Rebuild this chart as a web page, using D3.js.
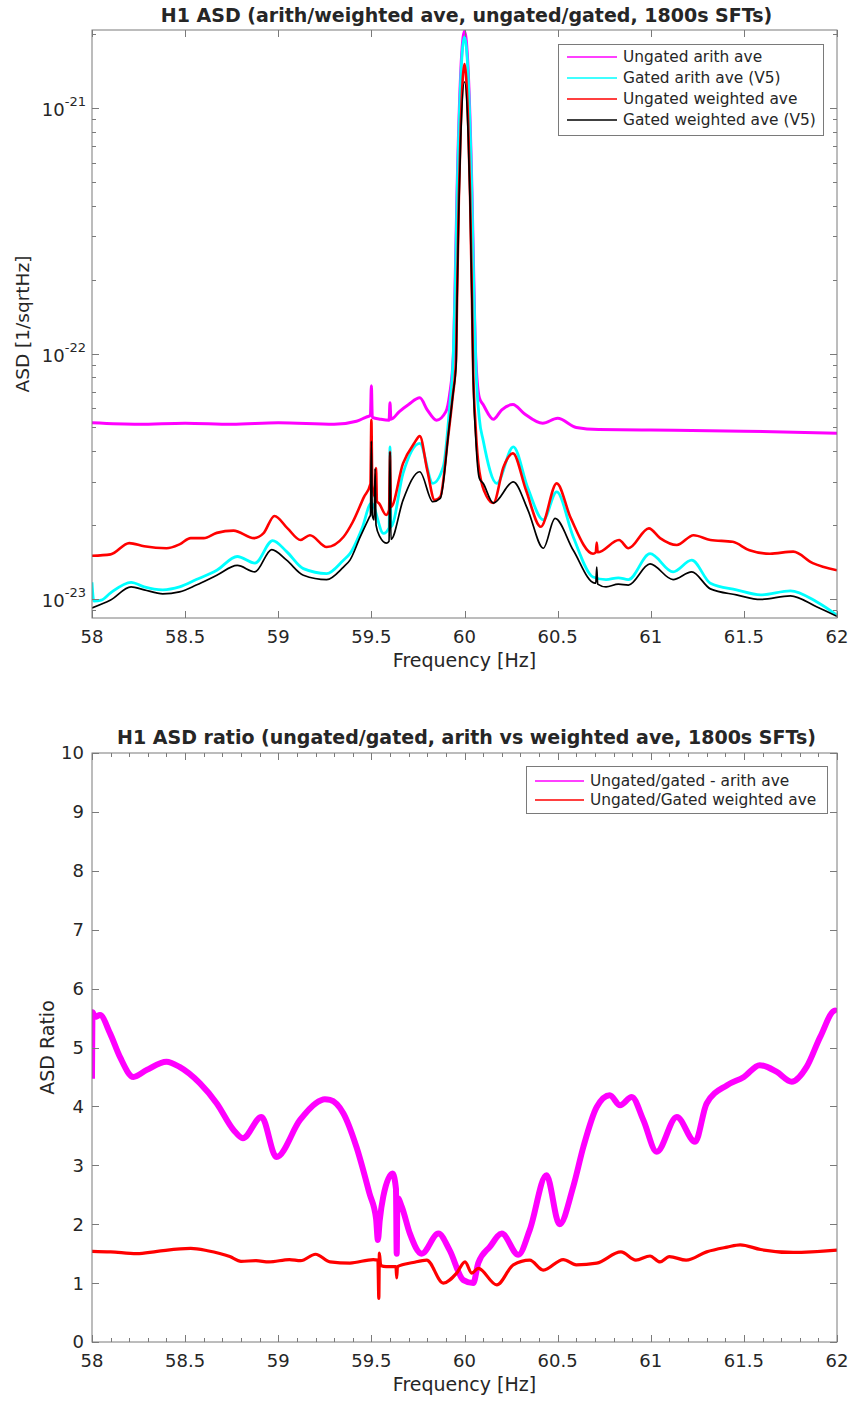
<!DOCTYPE html>
<html>
<head>
<meta charset="utf-8">
<script src="https://cdn.jsdelivr.net/npm/d3@7"></script>
<style>
  body { margin: 0; background: #fff; }
  text { font-family: "DejaVu Sans", sans-serif; fill: #262626; }
</style>
</head>
<body>
<script>
// ---- data: [frequency Hz, value] ----
const ungatedArith = [[58.0,5.22e-23],[58.25,5.15e-23],[58.5,5.2e-23],[58.75,5.15e-23],[59.0,5.22e-23],[59.3,5.15e-23],[59.42,5.3e-23],[59.47,5.5e-23],[59.495,5.6e-23],[59.50,7.4e-23],[59.505,5.5e-23],[59.55,5.4e-23],[59.595,5.35e-23],[59.60,6.3e-23],[59.605,5.4e-23],[59.65,5.8e-23],[59.70,6.2e-23],[59.76,6.6e-23],[59.80,5.9e-23],[59.85,5.35e-23],[59.90,5.8e-23],[59.92,6.8e-23],[59.94,9.8e-23],[59.95,2.0e-22],[59.96,4.6e-22],[59.98,1.41e-21],[60.00,2.06e-21],[60.02,1.41e-21],[60.04,4.6e-22],[60.05,2.0e-22],[60.06,9.8e-23],[60.08,6.6e-23],[60.10,6.2e-23],[60.155,5.4e-23],[60.20,5.9e-23],[60.26,6.2e-23],[60.32,5.7e-23],[60.42,5.2e-23],[60.50,5.45e-23],[60.60,5.0e-23],[60.72,4.9e-23],[61.0,4.88e-23],[61.5,4.83e-23],[62.0,4.74e-23]];

const gatedArith = [[58.0,1.17e-23],[58.01,9.8e-24],[58.05,9.9e-24],[58.10,1.06e-23],[58.21,1.17e-23],[58.28,1.12e-23],[58.38,1.09e-23],[58.47,1.12e-23],[58.56,1.20e-23],[58.67,1.31e-23],[58.78,1.49e-23],[58.875,1.40e-23],[58.97,1.73e-23],[59.045,1.56e-23],[59.135,1.33e-23],[59.26,1.27e-23],[59.35,1.44e-23],[59.385,1.53e-23],[59.45,1.94e-23],[59.50,2.46e-23],[59.565,1.85e-23],[59.595,1.95e-23],[59.60,4.17e-23],[59.605,1.97e-23],[59.67,3.25e-23],[59.76,4.31e-23],[59.83,2.96e-23],[59.886,3.46e-23],[59.92,6.07e-23],[59.94,1.0e-22],[59.95,1.85e-22],[59.96,4.3e-22],[59.98,1.33e-21],[60.00,1.95e-21],[60.02,1.33e-21],[60.04,4.3e-22],[60.05,1.85e-22],[60.06,9.4e-23],[60.08,5.4e-23],[60.10,4.44e-23],[60.173,2.96e-23],[60.262,4.17e-23],[60.34,2.83e-23],[60.423,2.10e-23],[60.495,2.73e-23],[60.584,1.79e-23],[60.69,1.23e-23],[60.76,1.20e-23],[60.826,1.22e-23],[60.88,1.20e-23],[60.996,1.53e-23],[61.12,1.29e-23],[61.22,1.44e-23],[61.32,1.16e-23],[61.46,1.09e-23],[61.59,1.04e-23],[61.75,1.08e-23],[61.89,9.75e-24],[62.0,8.6e-24]];

const ungatedWeighted = [[58.0,1.50e-23],[58.10,1.52e-23],[58.20,1.69e-23],[58.28,1.64e-23],[58.40,1.61e-23],[58.47,1.67e-23],[58.53,1.77e-23],[58.60,1.77e-23],[58.67,1.86e-23],[58.76,1.90e-23],[58.87,1.77e-23],[58.92,1.85e-23],[58.98,2.18e-23],[59.05,1.94e-23],[59.12,1.74e-23],[59.17,1.82e-23],[59.26,1.63e-23],[59.35,1.79e-23],[59.40,2.06e-23],[59.46,2.60e-23],[59.495,2.95e-23],[59.50,5.36e-23],[59.505,2.9e-23],[59.52,2.6e-23],[59.525,3.42e-23],[59.53,2.5e-23],[59.54,2.46e-23],[59.58,2.20e-23],[59.595,2.3e-23],[59.60,3.98e-23],[59.605,2.37e-23],[59.67,3.57e-23],[59.73,4.31e-23],[59.76,4.61e-23],[59.80,3.35e-23],[59.84,2.53e-23],[59.87,2.61e-23],[59.91,4.44e-23],[59.935,6.5e-23],[59.955,9.6e-23],[59.96,1.67e-22],[59.97,4.4e-22],[59.98,8.5e-22],[60.00,1.51e-21],[60.02,8.5e-22],[60.03,4.4e-22],[60.04,1.67e-22],[60.045,9.6e-23],[60.06,5.0e-23],[60.08,3.3e-23],[60.12,2.61e-23],[60.155,2.46e-23],[60.21,3.46e-23],[60.26,3.92e-23],[60.33,2.78e-23],[60.41,1.97e-23],[60.495,2.96e-23],[60.57,2.14e-23],[60.69,1.53e-23],[60.705,1.55e-23],[60.71,1.70e-23],[60.715,1.55e-23],[60.83,1.74e-23],[60.88,1.61e-23],[60.99,1.94e-23],[61.05,1.77e-23],[61.14,1.66e-23],[61.23,1.82e-23],[61.32,1.74e-23],[61.44,1.71e-23],[61.53,1.58e-23],[61.64,1.53e-23],[61.765,1.56e-23],[61.87,1.40e-23],[62.0,1.31e-23]];

const gatedWeighted = [[58.0,9.2e-24],[58.10,9.9e-24],[58.21,1.12e-23],[58.28,1.09e-23],[58.38,1.05e-23],[58.47,1.07e-23],[58.56,1.14e-23],[58.67,1.25e-23],[58.78,1.37e-23],[58.875,1.29e-23],[58.965,1.59e-23],[59.045,1.44e-23],[59.135,1.25e-23],[59.26,1.20e-23],[59.35,1.35e-23],[59.385,1.44e-23],[59.44,1.79e-23],[59.49,2.16e-23],[59.495,2.2e-23],[59.50,4.4e-23],[59.505,2.2e-23],[59.515,2.1e-23],[59.52,3.4e-23],[59.525,2.0e-23],[59.546,1.79e-23],[59.58,1.69e-23],[59.595,1.72e-23],[59.60,3.98e-23],[59.605,1.75e-23],[59.67,2.53e-23],[59.76,3.30e-23],[59.83,2.49e-23],[59.87,2.57e-23],[59.92,5.2e-23],[59.94,7.0e-23],[59.955,9.0e-23],[59.96,1.6e-22],[59.97,4.0e-22],[59.98,7.6e-22],[60.00,1.28e-21],[60.02,7.6e-22],[60.03,4.0e-22],[60.04,1.6e-22],[60.045,9.0e-23],[60.06,4.6e-23],[60.08,3.1e-23],[60.10,2.96e-23],[60.155,2.46e-23],[60.262,3.00e-23],[60.34,2.31e-23],[60.423,1.61e-23],[60.486,2.13e-23],[60.584,1.58e-23],[60.70,1.16e-23],[60.705,1.16e-23],[60.71,1.35e-23],[60.715,1.15e-23],[60.76,1.12e-23],[60.826,1.15e-23],[60.88,1.14e-23],[60.996,1.39e-23],[61.12,1.20e-23],[61.22,1.29e-23],[61.32,1.10e-23],[61.46,1.04e-23],[61.59,9.96e-24],[61.75,1.03e-23],[61.89,9.3e-24],[62.0,8.5e-24]];

const ratioArith = [[58.0,4.47],[58.003,5.6],[58.016,5.52],[58.043,5.55],[58.097,5.24],[58.15,4.84],[58.222,4.50],[58.294,4.62],[58.40,4.76],[58.47,4.67],[58.58,4.39],[58.67,4.05],[58.76,3.60],[58.81,3.46],[58.91,3.82],[58.99,3.14],[59.117,3.77],[59.2,4.05],[59.25,4.12],[59.278,4.11],[59.35,3.88],[59.42,3.31],[59.49,2.52],[59.525,2.1],[59.535,1.73],[59.545,2.07],[59.564,2.47],[59.614,2.86],[59.632,2.6],[59.636,1.50],[59.64,2.45],[59.663,2.30],[59.707,1.84],[59.77,1.50],[59.86,1.84],[59.92,1.56],[59.994,1.05],[60.047,1.00],[60.074,1.34],[60.137,1.62],[60.2,1.84],[60.289,1.48],[60.35,1.90],[60.44,2.83],[60.51,2.0],[60.584,2.64],[60.638,3.31],[60.71,3.99],[60.78,4.19],[60.835,4.02],[60.898,4.16],[60.96,3.77],[61.032,3.23],[61.14,3.82],[61.238,3.40],[61.30,4.05],[61.41,4.36],[61.50,4.50],[61.585,4.70],[61.675,4.59],[61.757,4.42],[61.837,4.67],[61.91,5.18],[61.99,5.63],[62.0,5.6]];

const ratioWeighted = [[58.0,1.54],[58.1,1.53],[58.24,1.50],[58.35,1.54],[58.53,1.59],[58.62,1.55],[58.74,1.45],[58.80,1.37],[58.88,1.38],[58.95,1.36],[59.06,1.40],[59.12,1.38],[59.20,1.49],[59.278,1.36],[59.385,1.34],[59.51,1.40],[59.535,1.39],[59.54,0.74],[59.543,1.51],[59.55,1.30],[59.58,1.28],[59.632,1.28],[59.636,1.09],[59.64,1.28],[59.725,1.35],[59.797,1.39],[59.886,1.00],[59.958,1.17],[60.003,1.36],[60.039,1.17],[60.074,1.25],[60.173,0.97],[60.262,1.31],[60.35,1.39],[60.423,1.22],[60.53,1.40],[60.60,1.31],[60.71,1.34],[60.84,1.53],[60.92,1.39],[60.996,1.46],[61.05,1.36],[61.10,1.45],[61.19,1.39],[61.30,1.53],[61.41,1.61],[61.48,1.65],[61.59,1.57],[61.765,1.52],[62.0,1.56]];

const freqTicks = [58, 58.5, 59, 59.5, 60, 60.5, 61, 61.5, 62];
const asdMajorTicks = [1e-23, 1e-22, 1e-21];
const ratioTicks = [0, 1, 2, 3, 4, 5, 6, 7, 8, 9, 10];

const topTitle = 'H1 ASD (arith/weighted ave, ungated/gated, 1800s SFTs)';
const bottomTitle = 'H1 ASD ratio (ungated/gated, arith vs weighted ave, 1800s SFTs)';
const topLegend = ['Ungated arith ave', 'Gated arith ave (V5)', 'Ungated weighted ave', 'Gated weighted ave (V5)'];
const bottomLegend = ['Ungated/gated - arith ave', 'Ungated/Gated weighted ave'];

// ---- layout ----
const W = 851, H = 1402;
const left = 92, right = 837;
const top1 = { t: 30, b: 618 };
const top2 = { t: 753, b: 1342 };
const axisColor = '#7a7a7a';

const svg = d3.select('body').append('svg').attr('width', W).attr('height', H);

const x = d3.scaleLinear().domain([58, 62]).range([left, right]);
const y1 = d3.scaleLog().domain([8.37e-24, 2.08e-21]).range([top1.b, top1.t]);
const y2 = d3.scaleLinear().domain([0, 10]).range([top2.b, top2.t]);

function series(g, data, yScale, color, width) {
  const line = d3.line()
    .x(d => x(d[0]))
    .y(d => yScale(d[1]))
    .curve(d3.curveMonotoneX);
  g.append('path')
    .datum(data)
    .attr('d', line)
    .attr('fill', 'none')
    .attr('stroke', color)
    .attr('stroke-width', width)
    .attr('stroke-linejoin', 'round');
}

function frame(g, yr) {
  g.append('rect')
    .attr('x', left).attr('y', yr.t)
    .attr('width', right - left).attr('height', yr.b - yr.t)
    .attr('fill', 'none').attr('stroke', axisColor).attr('stroke-width', 1);
}

function xTicks(g, yr, ticks, len) {
  ticks.forEach(t => {
    const px = Math.round(x(t)) + 0.5;
    g.append('line').attr('x1', px).attr('x2', px).attr('y1', yr.b).attr('y2', yr.b - len).attr('stroke', axisColor);
    g.append('line').attr('x1', px).attr('x2', px).attr('y1', yr.t).attr('y2', yr.t + len).attr('stroke', axisColor);
  });
}

function yTicks(g, scale, ticks, len) {
  ticks.forEach(t => {
    const py = Math.round(scale(t)) + 0.5;
    g.append('line').attr('x1', left).attr('x2', left + len).attr('y1', py).attr('y2', py).attr('stroke', axisColor);
    g.append('line').attr('x1', right).attr('x2', right - len).attr('y1', py).attr('y2', py).attr('stroke', axisColor);
  });
}

function xLabels(g, yr) {
  g.selectAll(null).data(freqTicks).enter().append('text')
    .attr('x', d => x(d)).attr('y', yr.b + 25)
    .attr('text-anchor', 'middle').style('font-size', '18px')
    .text(d => d);
  g.append('text')
    .attr('x', (left + right) / 2).attr('y', yr.b + 49)
    .attr('text-anchor', 'middle').style('font-size', '19px')
    .text('Frequency [Hz]');
}

function legend(g, box, rows, colors, names) {
  g.append('rect')
    .attr('x', box.x).attr('y', box.y).attr('width', box.w).attr('height', box.h)
    .attr('fill', '#fff').attr('stroke', axisColor);
  names.forEach((n, i) => {
    const ry = rows[i];
    g.append('line').attr('x1', box.lx1).attr('x2', box.lx2).attr('y1', ry).attr('y2', ry)
      .attr('stroke', colors[i]).attr('stroke-width', 1.6);
    g.append('text').attr('x', box.tx).attr('y', ry).attr('dy', '0.35em')
      .style('font-size', '15.4px').text(n);
  });
}

// ---- top panel ----
const g1 = svg.append('g');
const clip1 = svg.append('clipPath').attr('id', 'c1');
clip1.append('rect').attr('x', left).attr('y', top1.t).attr('width', right - left).attr('height', top1.b - top1.t);
const lines1 = g1.append('g').attr('clip-path', 'url(#c1)');
series(lines1, ungatedArith, y1, '#ff00ff', 3);
series(lines1, gatedArith, y1, '#00ffff', 2.8);
series(lines1, ungatedWeighted, y1, '#ff0000', 2.6);
series(lines1, gatedWeighted, y1, '#000000', 1.7);

frame(g1, top1);
xTicks(g1, top1, freqTicks, 7);
const minor1 = y1.ticks().filter(t => !asdMajorTicks.includes(t));
yTicks(g1, y1, asdMajorTicks, 7);
yTicks(g1, y1, minor1, 4);
xLabels(g1, top1);

asdMajorTicks.forEach(t => {
  const txt = g1.append('text').attr('x', 86).attr('y', y1(t) + 8)
    .attr('text-anchor', 'end').style('font-size', '18px');
  txt.append('tspan').text('10');
  txt.append('tspan').attr('dy', -10).style('font-size', '13px').text(String(Math.round(Math.log10(t))));
});

g1.append('text')
  .attr('transform', `translate(29,${(top1.t + top1.b) / 2}) rotate(-90)`)
  .attr('text-anchor', 'middle').style('font-size', '18.5px')
  .text('ASD [1/sqrtHz]');

g1.append('text')
  .attr('x', (left + right) / 2 + 2).attr('y', 22)
  .attr('text-anchor', 'middle').style('font-size', '19px').style('font-weight', 'bold')
  .text(topTitle);

legend(g1, { x: 558.5, y: 44.5, w: 265, h: 91, lx1: 567, lx2: 617, tx: 623 },
  [57, 78, 99, 120], ['#ff00ff', '#00ffff', '#ff0000', '#000000'], topLegend);

// ---- bottom panel ----
const g2 = svg.append('g');
const clip2 = svg.append('clipPath').attr('id', 'c2');
clip2.append('rect').attr('x', left).attr('y', top2.t).attr('width', right - left).attr('height', top2.b - top2.t);
const lines2 = g2.append('g').attr('clip-path', 'url(#c2)');
series(lines2, ratioArith, y2, '#ff00ff', 6);
series(lines2, ratioWeighted, y2, '#ff0000', 3.2);

frame(g2, top2);
xTicks(g2, top2, freqTicks, 7);
xTicks(g2, top2, d3.range(58.1, 62, 0.1).filter(t => Math.abs(t * 2 - Math.round(t * 2)) > 0.01), 4);
yTicks(g2, y2, ratioTicks, 7);
xLabels(g2, top2);

g2.selectAll(null).data(ratioTicks).enter().append('text')
  .attr('x', 84).attr('y', d => y2(d)).attr('dy', '0.36em')
  .attr('text-anchor', 'end').style('font-size', '18px')
  .text(d => d);

g2.append('text')
  .attr('transform', `translate(54,${(top2.t + top2.b) / 2}) rotate(-90)`)
  .attr('text-anchor', 'middle').style('font-size', '19px')
  .text('ASD Ratio');

g2.append('text')
  .attr('x', (left + right) / 2 + 2).attr('y', 744)
  .attr('text-anchor', 'middle').style('font-size', '19px').style('font-weight', 'bold')
  .text(bottomTitle);

legend(g2, { x: 526.5, y: 766.5, w: 301, h: 47, lx1: 535, lx2: 584, tx: 590 },
  [781, 800], ['#ff00ff', '#ff0000'], bottomLegend);
</script>
</body>
</html>
